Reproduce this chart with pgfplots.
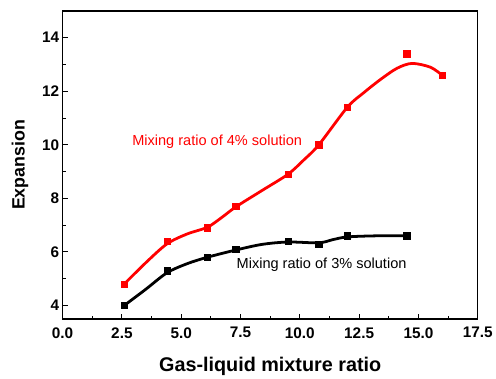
\documentclass[border=0pt]{standalone}
\usepackage{pgfplots}
\pgfplotsset{compat=1.18}
\usepackage{fontspec}
\setmainfont{Liberation Sans}
\begin{document}
\begin{tikzpicture}
\begin{axis}[
  scale only axis, width=418bp, height=310bp,
  xmin=0, xmax=17.5, ymin=3.5, ymax=15,
  xtick={0,2.5,...,17.5}, ytick={4,6,...,14},
  minor xtick={1.25,3.75,...,16.25}, minor ytick={5,7,...,13},
  x tick label style={yshift=-5bp},
  xticklabel style={/pgf/number format/fixed,/pgf/number format/fixed zerofill,/pgf/number format/precision=1},
  /pgf/number format/assume math mode=true,
  ticklabel style={font=\fontsize{15.5}{17}\selectfont\bfseries},
  tick align=inside, xtick pos=bottom, ytick pos=left,
  major tick length=5bp, minor tick length=3bp,
  axis line style={line width=1.4bp}, tick style={line width=1bp,black},
  xlabel={Gas-liquid mixture ratio}, ylabel={Expansion},
  xlabel style={font=\fontsize{20}{22}\selectfont\bfseries, yshift=-12bp},
  ylabel style={font=\fontsize{18}{20}\selectfont\bfseries, yshift=7bp},
  clip=false,
]
% red smooth curve
\addplot[red, line width=2.8bp, smooth, tension=0.5] coordinates {
(2.6,4.8) (3.5,5.59) (4.4,6.3) (5.25,6.67) (6.1,6.92) (6.7,7.28) (7.3,7.68) (8.4,8.29) (9.5,8.9) (10.15,9.42) (10.8,10.0) (12.0,11.4) (12.7,11.95) (13.4,12.44) (14.1,12.86) (14.73,13.04) (15.5,12.9) (16.0,12.6)};
\addplot[only marks, mark=square*, mark size=3.2bp, red] coordinates {
(2.6,4.8) (4.4,6.4) (6.1,6.9) (7.3,7.7) (9.5,8.9) (10.8,10.0) (12.0,11.4) (14.5,13.4) (16.0,12.6)};
% black smooth curve
\addplot[black, line width=2.8bp, smooth, tension=0.5] coordinates {
(2.6,4.0) (3.5,4.6) (4.4,5.22) (5.25,5.56) (6.1,5.8) (7.3,6.07) (8.4,6.28) (9.5,6.37) (10.8,6.34) (11.4,6.46) (12.0,6.56) (13.2,6.6) (14.5,6.6)};
\addplot[only marks, mark=square*, mark size=3.2bp, black] coordinates {
(2.6,4.0) (4.4,5.3) (6.1,5.8) (7.3,6.1) (9.5,6.4) (10.8,6.3) (12.0,6.6) (14.5,6.6)};
\node[anchor=west, red, font=\fontsize{14.7}{16}\selectfont, inner sep=0pt] at (axis cs:2.93,10.11) {Mixing ratio of 4\% solution};
\node[anchor=west, black, font=\fontsize{14.7}{16}\selectfont, inner sep=0pt] at (axis cs:7.33,5.52) {Mixing ratio of 3\% solution};
\end{axis}
\useasboundingbox (current axis.south west) ++(-63bp,-55bp) rectangle ([xshift=15bp,yshift=11bp]current axis.north east);
\end{tikzpicture}
\end{document}
